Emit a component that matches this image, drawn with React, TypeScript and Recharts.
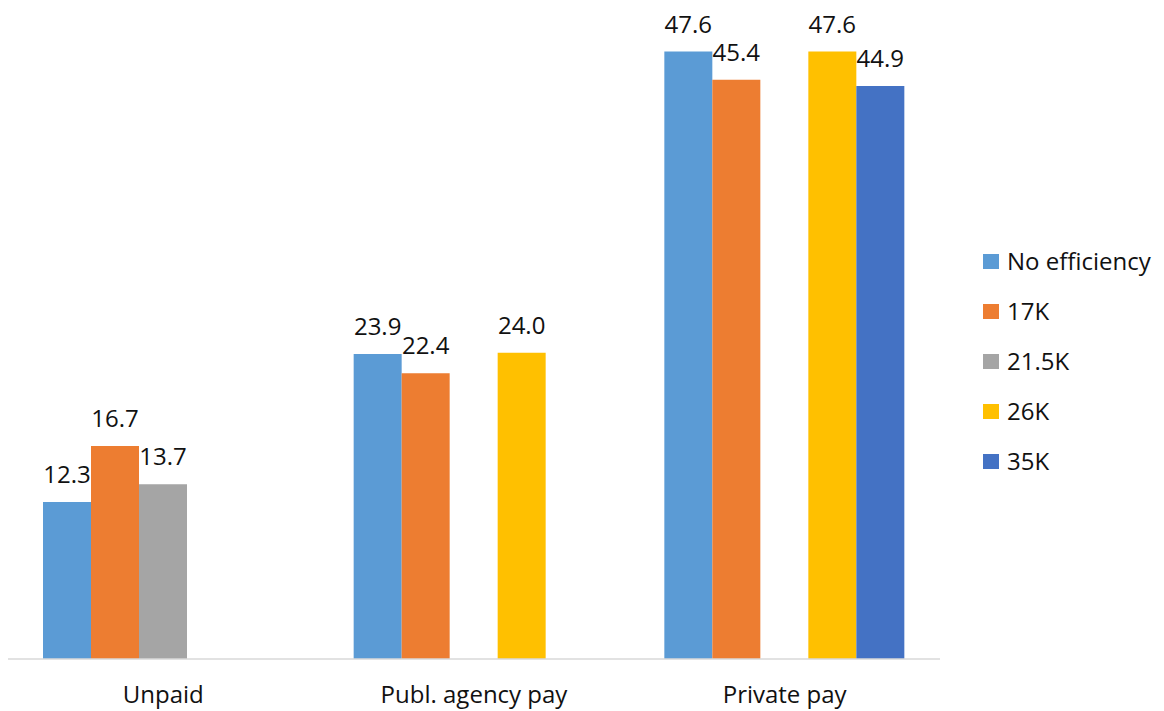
import { BarChart, Bar, XAxis, YAxis } from 'recharts';

const categories = ['Unpaid', 'Publ. agency pay', 'Private pay'];
const noEfficiency = [12.3, 23.9, 47.6];
const k17 = [16.7, 22.4, 45.4];
const k21_5 = [13.7, null, null];
const k26 = [null, 24.0, 47.6];
const k35 = [null, null, 44.9];

const series = [
  { key: 'noEff', name: 'No efficiency', color: '#5B9BD5', values: noEfficiency },
  { key: 'k17', name: '17K', color: '#ED7D31', values: k17 },
  { key: 'k21', name: '21.5K', color: '#A5A5A5', values: k21_5 },
  { key: 'k26', name: '26K', color: '#FFC000', values: k26 },
  { key: 'k35', name: '35K', color: '#4472C4', values: k35 },
];

const data = categories.map((name, i) => {
  const row: Record<string, string | number | null> = { name };
  series.forEach((s) => {
    row[s.key] = s.values[i];
  });
  return row;
});

const FONT = '"Open Sans", sans-serif';

function renderLabel(props: any) {
  const { x, y, width, value } = props;
  if (value == null) return null;
  return (
    <text
      x={Number(x) + Number(width) / 2}
      y={Number(y) - 19}
      textAnchor="middle"
      fontSize={24}
      fontFamily={FONT}
      fill="#111"
    >
      {Number(value).toFixed(1)}
    </text>
  );
}

function ChartLegend() {
  return (
    <div
      style={{
        position: 'absolute',
        left: 983,
        top: 236,
        fontFamily: FONT,
        fontSize: 24,
        color: '#111',
      }}
    >
      {series.map((s) => (
        <div
          key={s.key}
          style={{ display: 'flex', alignItems: 'center', height: 50, gap: 8 }}
        >
          <div style={{ width: 16, height: 15, backgroundColor: s.color }} />
          <span style={{ lineHeight: '24px' }}>{s.name}</span>
        </div>
      ))}
    </div>
  );
}

export default function App() {
  return (
    <div style={{ position: 'fixed', left: 0, top: 0, width: 1164, height: 711, background: '#fff' }}>
      <BarChart
        width={1164}
        height={711}
        data={data}
        margin={{ top: 21, right: 224, left: 8, bottom: 12 }}
        barCategoryGap={35}
        barGap={0}
      >
        <XAxis
          dataKey="name"
          height={40}
          tickLine={false}
          tickSize={0}
          tickMargin={27}
          axisLine={{ stroke: '#D9D9D9', strokeWidth: 1.5 }}
          tick={{ fontSize: 24, fill: '#111', fontFamily: FONT }}
        />
        <YAxis hide domain={[0, 50]} />
        {series.map((s) => (
          <Bar
            key={s.key}
            dataKey={s.key}
            name={s.name}
            fill={s.color}
            isAnimationActive={false}
            label={renderLabel}
          />
        ))}
      </BarChart>
      <ChartLegend />
    </div>
  );
}
